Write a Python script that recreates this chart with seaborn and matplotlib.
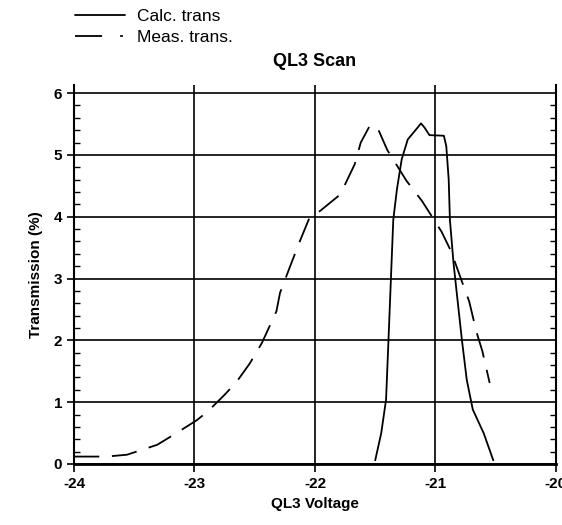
import matplotlib
matplotlib.use('Agg')
from matplotlib import pyplot as plt
from matplotlib.lines import Line2D
from matplotlib.ticker import MultipleLocator
import seaborn as sns

# Calculated transmission (solid)
calc_v = [-21.50, -21.45, -21.41, -21.39, -21.37, -21.35, -21.32, -21.28, -21.23,
          -21.17, -21.12, -21.09, -21.05, -20.93, -20.91, -20.89, -20.88, -20.85,
          -20.82, -20.78, -20.74, -20.69, -20.60, -20.52]
calc_t = [0.06, 0.50, 1.04, 2.00, 2.98, 3.95, 4.44, 4.93, 5.25,
          5.39, 5.51, 5.44, 5.32, 5.31, 5.14, 4.60, 3.95, 3.25,
          2.71, 2.00, 1.36, 0.88, 0.50, 0.06]

# Measured transmission (dashed)
meas_v = [-24.00, -23.73, -23.56, -23.31, -23.15, -22.98, -22.89, -22.75, -22.65,
          -22.54, -22.44, -22.32, -22.29, -22.19, -22.12, -22.04, -21.96, -21.79,
          -21.67, -21.62, -21.54, -21.47, -21.40, -21.24, -21.11, -20.95, -20.87,
          -20.78, -20.72, -20.66, -20.61, -20.55]
meas_t = [0.12, 0.12, 0.15, 0.31, 0.50, 0.71, 0.85, 1.12, 1.33,
          1.63, 1.96, 2.47, 2.77, 3.28, 3.63, 4.01, 4.09, 4.36,
          4.85, 5.20, 5.49, 5.39, 5.08, 4.58, 4.25, 3.76, 3.44,
          2.95, 2.63, 2.14, 1.82, 1.31]

x_ticks = [-24, -23, -22, -21, -20]
y_ticks = [0, 1, 2, 3, 4, 5, 6]

sns.set_style('white')
plt.rcParams['font.family'] = ['Liberation Sans', 'DejaVu Sans']
plt.rcParams['axes.unicode_minus'] = False
for key in ['text.color', 'axes.labelcolor', 'xtick.color', 'ytick.color']:
    plt.rcParams[key] = 'black'

fig = plt.figure(figsize=(5.62, 5.25), dpi=100)
ax = fig.add_axes([0.1317, 0.1162, 0.8575, 0.7218])

dash = (0, (14, 7))
sns.lineplot(x=calc_v, y=calc_t, sort=False, color='black', linewidth=1.3, ax=ax)
sns.lineplot(x=meas_v, y=meas_t, sort=False, color='black', linewidth=1.3,
             linestyle=dash, ax=ax)

ax.set_xlim(-24, -20)
ax.set_ylim(0, 6.13)
ax.set_xticks(x_ticks)
ax.set_yticks(y_ticks)
ax.yaxis.set_minor_locator(MultipleLocator(0.2))
ax.grid(True, which='major', color='black', linewidth=1.2)

for side in ['left', 'right', 'bottom']:
    ax.spines[side].set_visible(True)
    ax.spines[side].set_color('black')
    ax.spines[side].set_linewidth(1.5)
ax.spines['bottom'].set_linewidth(2)
ax.spines['top'].set_visible(False)

ax.tick_params(axis='x', which='major', direction='out', length=6, width=1.2,
               bottom=True, labelsize=11)
ax.tick_params(axis='y', which='major', direction='out', length=5, width=1.2,
               left=True, labelsize=11)
ax.tick_params(axis='y', which='minor', direction='in', length=4, width=1,
               left=True, right=True)
for lab in ax.get_xticklabels() + ax.get_yticklabels():
    lab.set_fontweight('bold')

ax.set_xlabel('QL3 Voltage', fontsize=11, fontweight='bold', labelpad=4)
ax.set_ylabel('Transmission (%)', fontsize=11, fontweight='bold', labelpad=8)
ax.set_title('QL3 Scan', fontsize=13, fontweight='bold', pad=14)

handles = [Line2D([], [], color='black', linewidth=1.3),
           Line2D([], [], color='black', linewidth=1.3, linestyle=(0, (15, 10, 1.5, 40)))]
fig.legend(handles, ['Calc. trans', 'Meas. trans.'], loc='upper left',
           bbox_to_anchor=(0.105, 1.012), frameon=False, fontsize=12.5,
           handlelength=2.9, handletextpad=0.7, labelspacing=0.3)

fig.savefig('out.png', dpi=100)
